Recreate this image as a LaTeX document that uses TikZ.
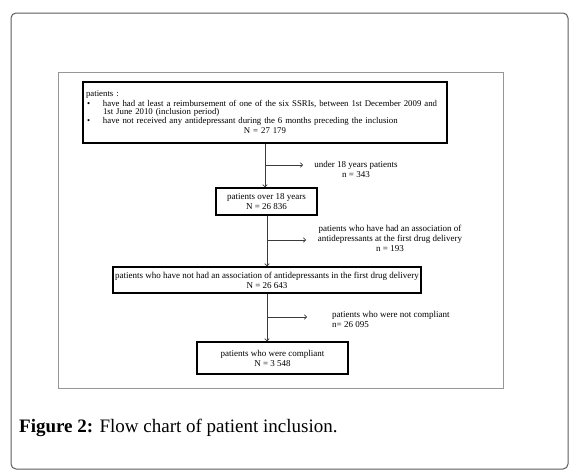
\documentclass[tikz,border=0pt]{standalone}
\usepackage{fontspec}
\setmainfont{Liberation Serif}
\usetikzlibrary{arrows.meta, positioning}
\definecolor{framegray}{RGB}{90,90,90}
\definecolor{innergray}{RGB}{150,150,150}
\definecolor{arrowgray}{RGB}{60,60,60}
\newcommand{\flowfont}{\fontsize{9}{10}\selectfont}
\newcommand{\topfont}{\fontsize{8.8}{8.6}\selectfont}

\begin{document}
\begin{tikzpicture}[x=1pt, y=-1pt,
    stepbox/.style={draw=black, line width=1.3pt, inner sep=1pt, align=center, font=\flowfont},
    sidetext/.style={inner sep=0pt, font=\flowfont},
    flowarrow/.style={-{To[length=3pt,width=5pt]}, line width=0.7pt, draw=arrowgray},
    outerframe/.style={draw=framegray, line width=1pt, rounded corners=5pt},
    innerframe/.style={draw=innergray, line width=0.7pt}
]
    \useasboundingbox (0,0) rectangle (576,474);
    \draw[outerframe] (11,13) rectangle (568,469);
    \draw[innerframe] (58,72) rectangle (503,388);

    \node[stepbox, name=all, minimum width=364pt, minimum height=61pt, text width=358pt, align=left, font=\topfont] at (265,112.5) {%
        patients :\\[0.5pt]
        \makebox[17pt][l]{\hspace{1pt}\textbullet}have had at least a reimbursement of one of the six SSRIs, between 1st December 2009 and\\
        \hspace{17pt}1st June 2010 (inclusion period)\\
        \makebox[17pt][l]{\hspace{1pt}\textbullet}have not received any antidepressant during the 6 months preceding the inclusion\\[2pt]
        \makebox[358pt][c]{N = 27 179}};
    \node[stepbox, name=over18, minimum width=101pt, minimum height=27pt] at (266.5,201.5) {patients over 18 years\\ N = 26 836};
    \node[stepbox, name=noassoc, minimum width=308pt, minimum height=26pt] at (267,280) {patients who have not had an association of antidepressants in the first drug delivery\\ N = 26 643};
    \node[stepbox, name=compliant, minimum width=151pt, minimum height=32pt] at (272.5,358) {patients who were compliant\\ N = 3 548};

    \node[sidetext, name=under18, align=center] at (356,169.5) {under 18 years patients\\ n = 343};
    \node[sidetext, name=assoc, align=center] at (390,238) {patients who have had an association of\\ antidepressants at the first drug delivery\\ n = 193};
    \node[sidetext, name=notcompl, align=left, anchor=west] at (332,319) {patients who were not compliant\\ n= 26 095};

    \coordinate (b1) at (265,165);
    \coordinate (e1) at (303,165);
    \coordinate (b2) at (267,240);
    \coordinate (e2) at (306,240);
    \coordinate (b3) at (267,317);
    \coordinate (e3) at (307,317);

    \draw[flowarrow] (all.south -| b1) -- (b1 |- over18.north);
    \draw[flowarrow] (over18.south -| b2) -- (b2 |- noassoc.north);
    \draw[flowarrow] (noassoc.south -| b3) -- (b3 |- compliant.north);
    \draw[flowarrow] (b1) -- (e1);
    \draw[flowarrow] (b2) -- (e2);
    \draw[flowarrow] (b3) -- (e3);

    \node[anchor=west, inner sep=0pt, font=\fontsize{19}{21}\selectfont, name=caption] at (19,428) {\textbf{Figure 2:} Flow chart of patient inclusion.};
\end{tikzpicture}
\end{document}
